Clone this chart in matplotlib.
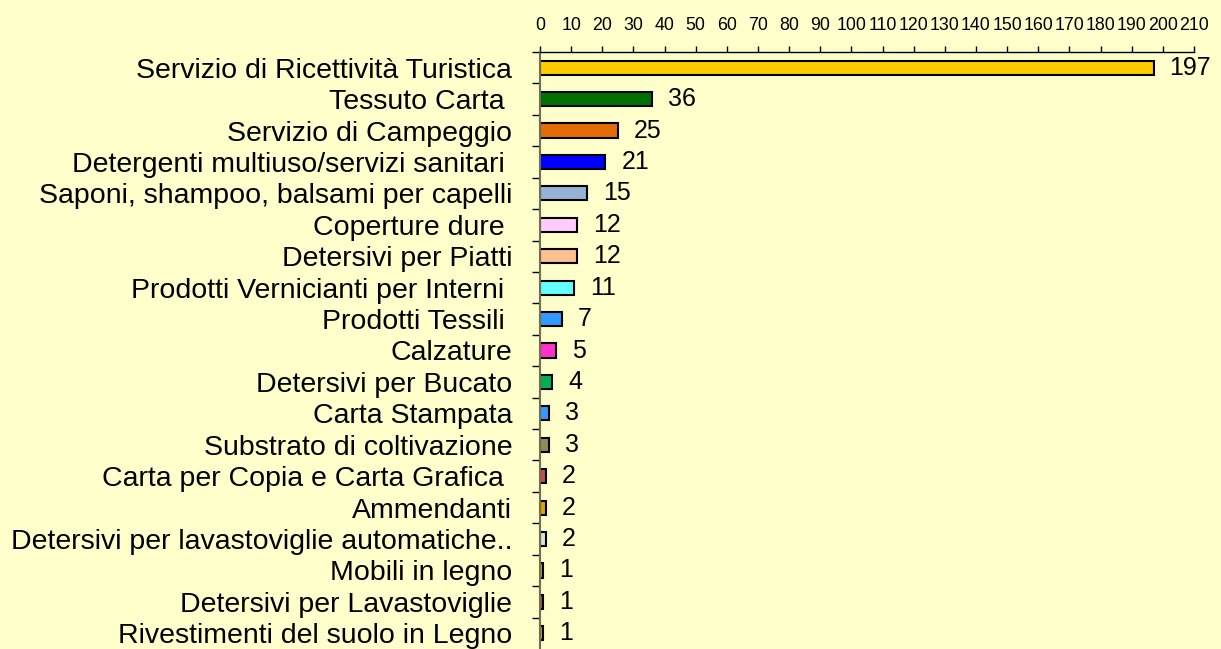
import matplotlib
matplotlib.use('Agg')
import matplotlib.pyplot as plt
from matplotlib.ticker import MultipleLocator

plt.rcParams['font.family'] = ['Liberation Sans', 'DejaVu Sans']

# categorie e valori
categorie = ['Servizio di Ricettività Turistica', 'Tessuto Carta ', 'Servizio di Campeggio',
             'Detergenti multiuso/servizi sanitari ', 'Saponi, shampoo, balsami per capelli',
             'Coperture dure ', 'Detersivi per Piatti', 'Prodotti Vernicianti per Interni ',
             'Prodotti Tessili ', 'Calzature', 'Detersivi per Bucato', 'Carta Stampata',
             'Substrato di coltivazione', 'Carta per Copia e Carta Grafica ', 'Ammendanti',
             'Detersivi per lavastoviglie automatiche..', 'Mobili in legno',
             'Detersivi per Lavastoviglie', 'Rivestimenti del suolo in Legno']
valori = [197, 36, 25, 21, 15, 12, 12, 11, 7, 5, 4, 3, 3, 2, 2, 2, 1, 1, 1]
colori = ['#FFCC00', '#007000', '#E36C09', '#0000FF', '#95B3D7', '#FFCCFF', '#FAC090',
          '#66FFFF', '#3399FF', '#FF33CC', '#00B050', '#3399FF', '#948A54', '#C0504D',
          '#E0A000', '#D8E4D8', '#C8A000', '#C0501A', '#D4A017']

sfondo = '#FFFFCC'
fig = plt.figure(figsize=(12.21, 6.49), dpi=100, facecolor=sfondo)
ax = fig.add_axes([540 / 1221, 0.0, 654 / 1221, 1 - 52 / 649])
ax.set_facecolor(sfondo)

pos = list(range(len(categorie)))
ax.barh(pos, valori, height=0.45, color=colori, edgecolor='black', linewidth=1.5)

for p, v in zip(pos, valori):
    ax.annotate(str(v), (v, p), xytext=(16, 0), textcoords='offset pixels',
                ha='left', va='center', fontsize=18)

ax.set_xlim(0, 210)
ax.set_ylim(len(categorie) - 0.5, -0.5)
ax.xaxis.set_major_locator(MultipleLocator(10))
ax.xaxis.tick_top()
ax.tick_params(axis='x', direction='out', length=4.3, width=1, labelsize=12.8, pad=9)

ax.set_yticks(pos)
ax.set_yticklabels(categorie, fontsize=20.5)
ax.tick_params(axis='y', length=0, pad=20)
ax.set_yticks([p + 0.5 for p in pos[:-1]] + [-0.5], minor=True)
ax.tick_params(axis='y', which='minor', length=5.8, width=1, color='black')

for lato in ['right', 'bottom']:
    ax.spines[lato].set_visible(False)
ax.spines['left'].set_color('#707050')
ax.spines['left'].set_linewidth(1.5)
ax.spines['top'].set_linewidth(1)

fig.savefig('out.png', dpi=100, facecolor=sfondo)
